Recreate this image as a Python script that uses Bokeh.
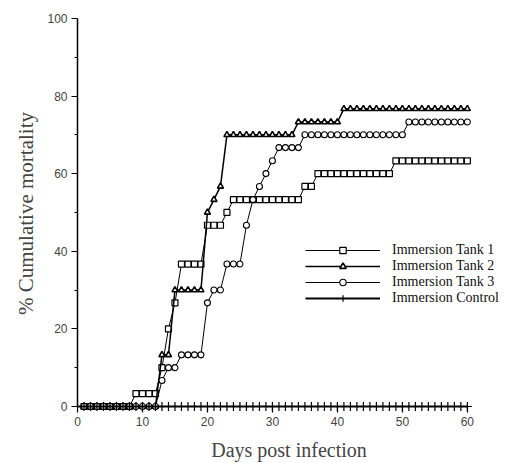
from bokeh.plotting import figure
from bokeh.models import Range1d, Legend, LegendItem, FixedTicker
from bokeh.embed import file_html
from bokeh.resources import INLINE

days = list(range(1, 61))

def steps(segments):
    out = []
    for (a, b, v) in segments:
        out += [v] * (b - a + 1)
    return out

tank1 = steps([(1, 8, 0), (9, 12, 3.33), (13, 13, 10), (14, 14, 20), (15, 15, 26.7),
               (16, 19, 36.7), (20, 22, 46.7), (23, 23, 50), (24, 34, 53.3),
               (35, 36, 56.7), (37, 48, 60), (49, 60, 63.3)])
tank2 = steps([(1, 12, 0), (13, 14, 13.3), (15, 19, 30), (20, 20, 50), (21, 21, 53.3),
               (22, 22, 56.7), (23, 33, 70), (34, 40, 73.3), (41, 60, 76.7)])
tank3 = steps([(1, 12, 0), (13, 13, 6.7), (14, 15, 10), (16, 19, 13.3), (20, 20, 26.7),
               (21, 22, 30), (23, 25, 36.7), (26, 26, 46.7), (27, 27, 53.3),
               (28, 28, 56.7), (29, 29, 60), (30, 30, 63.3), (31, 34, 66.7),
               (35, 50, 70), (51, 60, 73.3)])
control = [0] * 60
control_line_days = [0] + days
control_line = [0] * 61

labels = ["Immersion Tank 1", "Immersion Tank 2", "Immersion Tank 3", "Immersion Control"]

p = figure(frame_width=423, frame_height=398, output_backend="svg", toolbar_location=None,
           x_range=Range1d(0, 65.1), y_range=Range1d(-1.55, 101),
           min_border_left=77, min_border_top=14, min_border_right=10, min_border_bottom=49)
p.outline_line_color = None
p.grid.visible = False
p.background_fill_color = "white"

r1 = p.line(days, tank1, line_color="black", line_width=1)
s1 = p.scatter(days, tank1, marker="square", size=6, fill_color="white", line_color="black", line_width=1.2)
r2 = p.line(days, tank2, line_color="black", line_width=1.5)
s2 = p.scatter(days, tank2, marker="triangle", size=6, fill_color="white", line_color="black", line_width=1.6)
r3 = p.line(days, tank3, line_color="black", line_width=1)
s3 = p.scatter(days, tank3, marker="circle", size=6, fill_color="white", line_color="black", line_width=1.1)
r4 = p.line(control_line_days, control_line, line_color="black", line_width=2)
s4 = p.scatter(days, control, marker="cross", size=9, line_color="black", line_width=1.2)

legend = Legend(items=[
    LegendItem(label=labels[0], renderers=[r1, s1]),
    LegendItem(label=labels[1], renderers=[r2, s2]),
    LegendItem(label=labels[2], renderers=[r3, s3]),
    LegendItem(label=labels[3], renderers=[r4, s4]),
], location=(228, 106))
legend.glyph_width = 75
legend.glyph_height = 16
legend.spacing = 0
legend.padding = 0
legend.margin = 0
legend.label_standoff = 12
legend.label_text_font = "Liberation Serif"
legend.label_text_font_size = "14px"
legend.label_text_color = "#111111"
legend.label_height = 16
legend.border_line_color = None
legend.background_fill_alpha = 0
p.add_layout(legend)

xa = p.xaxis[0]
xa.bounds = (0, 60)
xa.axis_line_color = None
xa.ticker = FixedTicker(ticks=[0, 10, 20, 30, 40, 50, 60], minor_ticks=[])
xa.axis_label = "Days post infection"
xa.axis_label_text_font = "Liberation Serif"
xa.axis_label_text_font_style = "normal"
xa.axis_label_text_font_size = "20px"
xa.axis_label_standoff = 10
xa.major_label_text_font = "Liberation Sans"
xa.major_label_text_font_size = "12px"
xa.major_label_standoff = 4
xa.major_tick_out = 0
xa.major_tick_in = 6
xa.major_tick_line_width = 1.2
xa.minor_tick_out = 0

ya = p.yaxis[0]
ya.bounds = (0, 100)
ya.ticker = FixedTicker(ticks=[0, 20, 40, 60, 80, 100], minor_ticks=[10, 30, 50, 70, 90])
ya.axis_label = "% Cumulative mortality"
ya.axis_label_text_font = "Liberation Serif"
ya.axis_label_text_font_style = "normal"
ya.axis_label_text_font_size = "21px"
ya.axis_label_standoff = 6
ya.major_label_text_font = "Liberation Sans"
ya.major_label_text_font_size = "12px"
ya.major_label_standoff = 4
ya.major_tick_out = 6
ya.major_tick_in = 0
ya.minor_tick_out = 3
ya.minor_tick_in = 0
ya.axis_line_width = 1.5

open("out.html", "w").write(file_html(p, INLINE))
